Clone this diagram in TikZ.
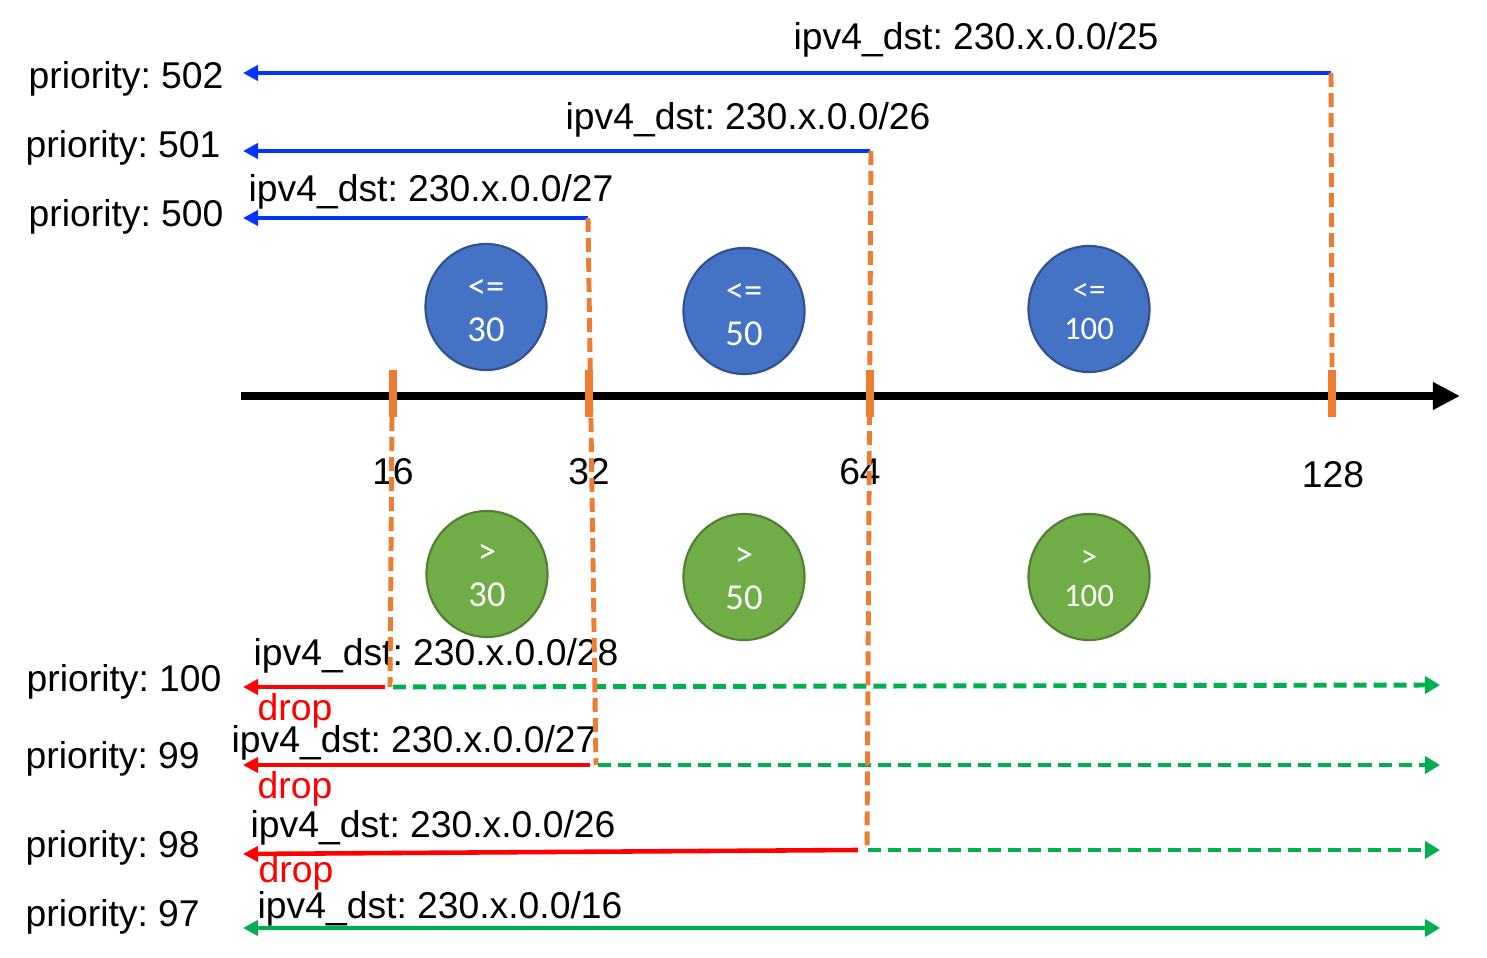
\documentclass[tikz,border=0pt]{standalone}
\usepackage{fontspec}
\setmainfont{Liberation Sans}
\newfontfamily\calibrifont{Carlito}
\usetikzlibrary{arrows.meta,shapes.geometric}
\frenchspacing

\definecolor{ruleblue}{RGB}{0,51,255}
\definecolor{dropred}{RGB}{255,0,0}
\definecolor{passgreen}{RGB}{0,176,80}
\definecolor{cutorange}{RGB}{237,125,49}
\definecolor{lefill}{RGB}{68,114,196}
\definecolor{ledraw}{RGB}{47,82,143}
\definecolor{gtfill}{RGB}{112,173,71}
\definecolor{gtdraw}{RGB}{80,126,50}

% two lines in a meter, the strut puts them at the right height
\newcommand{\meter}[3]{\rule{0pt}{#1}#2\\#3}

\tikzset{
  txt/.style={font=\fontsize{10.6}{12}\selectfont, inner sep=0pt, anchor=base west},
  droptxt/.style={txt, dropred},
  ticktxt/.style={txt, anchor=base},
  bluerule/.style={ruleblue, line width=1.2pt, -{Triangle[length=0.15cm,width=0.15cm]}},
  droprule/.style={dropred, line width=1.3pt, -{Triangle[length=0.15cm,width=0.15cm]}},
  passrule/.style={passgreen, line width=1.4pt, dash pattern=on 0.13cm off 0.07cm, -{Triangle[length=0.15cm,width=0.17cm]}},
  cutline/.style={cutorange, line width=1.4pt, dash pattern=on 0.14cm off 0.06cm},
  cuttick/.style={cutorange, line width=2.3pt},
  bucket/.style={ellipse, minimum width=1.21cm, minimum height=1.26cm, line width=0.6pt, text=white, align=center, inner sep=0pt, font=\calibrifont\fontsize{10.4}{12.2}\selectfont},
  smallbucket/.style={font=\calibrifont\fontsize{9.3}{11.1}\selectfont},
  lebucket/.style={bucket, fill=lefill, draw=ledraw},
  gtbucket/.style={bucket, fill=gtfill, draw=gtdraw},
}

\begin{document}
\begin{tikzpicture}[x=0.01cm, y=-0.01cm]
    \useasboundingbox (0,0) rectangle (1487,958);

    % priorities of the rules
    \node [txt] (p502) at (28,89) {priority: 502};
    \node [txt] (p501) at (25,158) {priority: 501};
    \node [txt] (p500) at (28,227) {priority: 500};
    \node [txt] (p100) at (26,692) {priority: 100};
    \node [txt] (p99) at (25,768) {priority: 99};
    \node [txt] (p98) at (25,857) {priority: 98};
    \node [txt] (p97) at (25,926) {priority: 97};

    % matches
    \node [txt] (m25) at (793,50) {ipv4\_dst: 230.x.0.0/25};
    \node [txt] (m26) at (565,130) {ipv4\_dst: 230.x.0.0/26};
    \node [txt] (m27) at (248,202) {ipv4\_dst: 230.x.0.0/27};
    \node [txt] (m28b) at (253,666) {ipv4\_dst: 230.x.0.0/28};
    \node [txt] (m27b) at (231,753) {ipv4\_dst: 230.x.0.0/27};
    \node [txt] (m26b) at (250,838) {ipv4\_dst: 230.x.0.0/26};
    \node [txt] (m16b) at (257,919) {ipv4\_dst: 230.x.0.0/16};
    \node [droptxt] (d100) at (257,721) {drop};
    \node [droptxt] (d99) at (257,798) {drop};
    \node [droptxt] (d98) at (258,883) {drop};

    % the axis
    \coordinate (ax0) at (241,396);
    \coordinate (ax1) at (1460,396);
    \draw [line width=2pt, -{Triangle[length=0.27cm,width=0.26cm]}] (ax0) -- (ax1);
    \coordinate (t16) at (393,396);
    \coordinate (t32) at (589,396);
    \coordinate (t64) at (870,396);
    \coordinate (t128) at (1332,396);
    \foreach \t in {t16,t32,t64,t128}
        \draw [cuttick] (\t) ++(0,-26) -- ++(0,47);
    \node [ticktxt] (n16) at (393,485) {16};
    \node [ticktxt] (n32) at (589,485) {32};
    \node [ticktxt] (n64) at (860,485) {64};
    \node [ticktxt] (n128) at (1333,488) {128};

    % meters
    \node [lebucket] (le30) at (486,307) {\meter{0.26cm}{<=}{30}};
    \node [lebucket] (le50) at (744,311) {\meter{0.26cm}{<=}{50}};
    \node [lebucket, smallbucket] (le100) at (1089,309) {\meter{0.22cm}{<=}{100}};
    \node [gtbucket] (gt30) at (487,574) {\meter{0.22cm}{>}{30}};
    \node [gtbucket] (gt50) at (744,577) {\meter{0.22cm}{>}{50}};
    \node [gtbucket, smallbucket] (gt100) at (1089,577) {\meter{0.2cm}{>}{100}};

    % rules above the axis
    \coordinate (r25a) at (1331,73);  \coordinate (r25b) at (243,73);
    \coordinate (r26a) at (870,151);  \coordinate (r26b) at (243,151);
    \coordinate (r27a) at (588,218);  \coordinate (r27b) at (243,218);
    \draw [bluerule] (r25a) -- (r25b);
    \draw [bluerule] (r26a) -- (r26b);
    \draw [bluerule] (r27a) -- (r27b);

    % rules below the axis
    \coordinate (q28a) at (385,687);  \coordinate (q28b) at (243,687);
    \coordinate (q28c) at (393,687);  \coordinate (q28d) at (1440,685);
    \coordinate (q27a) at (590,765);  \coordinate (q27b) at (243,765);
    \coordinate (q27c) at (598,765);  \coordinate (q27d) at (1440,765);
    \coordinate (q26a) at (858,850);  \coordinate (q26b) at (243,854);
    \coordinate (q26c) at (868,850);  \coordinate (q26d) at (1440,850);
    \coordinate (q16a) at (243,928);  \coordinate (q16b) at (1440,928);
    \draw [droprule] (q28a) -- (q28b);
    \draw [passrule] (q28c) -- (q28d);
    \draw [droprule] (q27a) -- (q27b);
    \draw [passrule] (q27c) -- (q27d);
    \draw [droprule] (q26a) -- (q26b);
    \draw [passrule] (q26c) -- (q26d);
    \draw [passrule, solid, {Triangle[length=0.15cm,width=0.15cm]}-{Triangle[length=0.15cm,width=0.17cm]}] (q16a) -- (q16b);

    % cuts
    \draw [cutline] (r25a) -- (1332,370);
    \draw [cutline] (871,151) -- (867,850);
    \draw [cutline] (r27a) -- (596,765);
    \draw [cutline] (392,417) -- (390,687);
\end{tikzpicture}
\end{document}
